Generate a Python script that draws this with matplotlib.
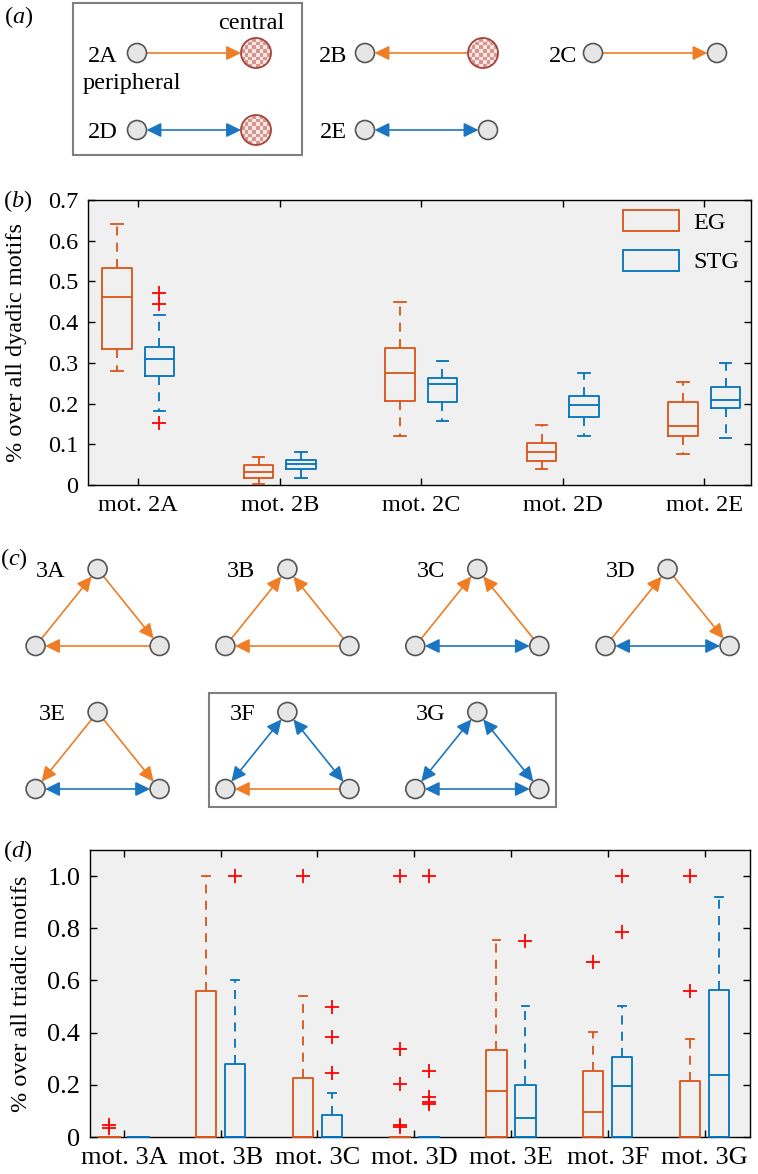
import numpy as np
import matplotlib.pyplot as plt
from matplotlib.patches import Circle, Rectangle, FancyArrowPatch, Patch
from matplotlib.colors import ListedColormap

plt.rcParams['font.family'] = ['Liberation Serif', 'DejaVu Serif']
plt.rcParams['mathtext.fontset'] = 'custom'
plt.rcParams['mathtext.rm'] = 'Liberation Serif'
plt.rcParams['mathtext.it'] = 'Liberation Serif:italic'
FS = 17.5

# ---- panel (b): dyadic motifs, box statistics ----
dyad_labels = ['mot. 2A', 'mot. 2B', 'mot. 2C', 'mot. 2D', 'mot. 2E']
eg2_lo = [0.281, 0.002, 0.121, 0.039, 0.077]
eg2_q1 = [0.335, 0.018, 0.207, 0.058, 0.120]
eg2_med = [0.462, 0.033, 0.275, 0.081, 0.144]
eg2_q3 = [0.533, 0.048, 0.337, 0.103, 0.203]
eg2_hi = [0.641, 0.068, 0.450, 0.148, 0.252]
eg2_out = [[], [], [], [], []]
stg2_lo = [0.182, 0.018, 0.158, 0.121, 0.115]
stg2_q1 = [0.268, 0.040, 0.203, 0.167, 0.189]
stg2_med = [0.310, 0.052, 0.249, 0.197, 0.208]
stg2_q3 = [0.338, 0.062, 0.262, 0.219, 0.240]
stg2_hi = [0.418, 0.080, 0.304, 0.275, 0.299]
stg2_out = [[0.472, 0.445, 0.152], [], [], [], []]

# ---- panel (d): triadic motifs ----
triad_labels = ['mot. 3A', 'mot. 3B', 'mot. 3C', 'mot. 3D', 'mot. 3E', 'mot. 3F', 'mot. 3G']
eg3_lo = [0, 0, 0, 0, 0, 0, 0]
eg3_q1 = [0, 0, 0, 0, 0, 0, 0]
eg3_med = [0, 0, 0, 0, 0.176, 0.096, 0]
eg3_q3 = [0, 0.558, 0.228, 0, 0.333, 0.253, 0.215]
eg3_hi = [0, 1.0, 0.542, 0, 0.754, 0.401, 0.376]
eg3_out = [[0.045, 0.035], [], [1.0], [1.0, 0.336, 0.203, 0.045, 0.038], [], [0.671], [1.0, 0.558]]
stg3_lo = [0, 0, 0, 0, 0, 0, 0]
stg3_q1 = [0, 0, 0, 0, 0, 0, 0]
stg3_med = [0, 0, 0, 0, 0.074, 0.195, 0.237]
stg3_q3 = [0, 0.279, 0.086, 0, 0.201, 0.308, 0.564]
stg3_hi = [0, 0.6, 0.167, 0, 0.503, 0.503, 0.919]
stg3_out = [[], [1.0], [0.5, 0.385, 0.247], [1.0, 0.253, 0.154, 0.135, 0.128], [0.75], [1.0, 0.786], []]

EG = '#D95319'
STG = '#0072BD'
ORANGE = '#EE7D24'
BLUE = '#1B76C2'

fig = plt.figure(figsize=(7.58, 11.74), dpi=100)

# canvas in pixel units for the motif sketches
canvas = fig.add_axes([0, 0, 1, 1])
canvas.axis('off')

R = 9.5
RC = 15


def node(x, y, central=False):
    if central:
        board = np.indices((8, 8)).sum(axis=0) % 2
        im = canvas.imshow(board, cmap=ListedColormap(['#F7E6E3', '#D8958D']),
                           extent=(x - RC, x + RC, y + RC, y - RC),
                           interpolation='nearest', aspect='auto', zorder=3)
        c = Circle((x, y), RC, fc='none', ec='#A4443C', lw=1.3, zorder=4)
        canvas.add_patch(c)
        im.set_clip_path(c)
    else:
        canvas.add_patch(Circle((x, y), R, fc='#E6E6E6', ec='#555555', lw=1.2, zorder=3))


def link(p, q, rp=R, rq=R, both=False):
    p = np.array(p, float)
    q = np.array(q, float)
    u = (q - p) / np.hypot(*(q - p))
    a, b = p + u * rp, q - u * rq
    style = '<|-|>' if both else '-|>'
    canvas.add_patch(FancyArrowPatch(a, b, arrowstyle=style + ',head_length=0.55,head_width=0.27',
                                     mutation_scale=16, color=BLUE if both else ORANGE,
                                     lw=1.2, shrinkA=0, shrinkB=0, zorder=2))


def label(x, y, s):
    canvas.text(x, y, s, ha='right', va='baseline', fontsize=FS)


# ---- panel (a) ----
canvas.text(4, 4, r'$(\mathit{a})$', va='top', fontsize=FS)
canvas.add_patch(Rectangle((73, 3), 229, 152, fc='none', ec='#808080', lw=1.5))
y1, y2 = 53, 130
for (ln, rn, yy, central, kind) in [(137, 256, y1, True, 'ab'),
                                    (365, 483, y1, True, 'ba'),
                                    (593, 717, y1, False, 'ab'),
                                    (137, 256, y2, True, 'both'),
                                    (365, 488, y2, False, 'both')]:
    node(ln, yy)
    node(rn, yy, central)
    rr = RC if central else R
    if kind == 'ab':
        link((ln, yy), (rn, yy), R, rr)
    elif kind == 'ba':
        link((rn, yy), (ln, yy), rr, R)
    else:
        link((ln, yy), (rn, yy), R, rr, both=True)
label(118, y1 + 8.5, '2A')
label(347, y1 + 8.5, '2B')
label(577, y1 + 8.5, '2C')
label(118, y2 + 8.5, '2D')
label(347, y2 + 8.5, '2E')
canvas.text(251, 29, 'central', ha='center', va='baseline', fontsize=FS)
canvas.text(132, 89, 'peripheral', ha='center', va='baseline', fontsize=FS)

# ---- panel (c) ----
canvas.text(0, 546, r'$(\mathit{c})$', va='top', fontsize=FS)
canvas.add_patch(Rectangle((209, 693), 347, 114, fc='none', ec='#808080', lw=1.5))
triads = [
    ('3A', 97.6, 569, [('t', 'r', 0), ('r', 'l', 0), ('l', 't', 0)]),
    ('3B', 287.4, 569, [('l', 't', 0), ('r', 't', 0), ('r', 'l', 0)]),
    ('3C', 477.3, 569, [('l', 't', 0), ('r', 't', 0), ('l', 'r', 1)]),
    ('3D', 667.6, 569, [('l', 't', 0), ('t', 'r', 0), ('l', 'r', 1)]),
    ('3E', 97.6, 712, [('t', 'l', 0), ('t', 'r', 0), ('l', 'r', 1)]),
    ('3F', 287.4, 712, [('t', 'l', 1), ('t', 'r', 1), ('r', 'l', 0)]),
    ('3G', 477.3, 712, [('t', 'l', 1), ('t', 'r', 1), ('l', 'r', 1)]),
]
for name, tx, ty, edges in triads:
    pts = {'t': (tx, ty), 'l': (tx - 62, ty + 77), 'r': (tx + 62, ty + 77)}
    for p in pts.values():
        node(*p)
    for a, b, both in edges:
        link(pts[a], pts[b], both=bool(both))
    label(tx - 32, ty + 8, name)

canvas.set_xlim(0, 758)
canvas.set_ylim(1174, 0)


# ---- box plots ----
def stats(lo, q1, med, q3, hi, out):
    return [dict(whislo=a, q1=b, med=c, q3=d, whishi=e, fliers=f)
            for a, b, c, d, e, f in zip(lo, q1, med, q3, hi, out)]


def boxes(ax, st, pos, color):
    art = ax.bxp(st, positions=pos, widths=0.21, capwidths=0.08, manage_ticks=False,
                 boxprops=dict(color=color, lw=1.3),
                 whiskerprops=dict(color=color, lw=1.3, linestyle=(0, (5, 4))),
                 capprops=dict(color=color, lw=1.3),
                 medianprops=dict(color=color, lw=1.3),
                 flierprops=dict(marker='+', markeredgecolor='red', markersize=9.5,
                                 markeredgewidth=1.3, linestyle='none'))
    for group in art.values():
        for ln in group:
            ln.set_zorder(3)
            ln.set_clip_on(False)


def style(ax, labels, ylim, ticks, ticklabels, ylabel, lx, tfs):
    ax.set_facecolor('#F0F0F0')
    ax.set_xticks(np.arange(1, len(labels) + 1), labels)
    ax.set_ylim(*ylim)
    ax.set_yticks(ticks, ticklabels)
    ax.tick_params(direction='in', top=True, right=True, length=5, width=1,
                   labelsize=tfs, pad=7)
    for s in ax.spines.values():
        s.set_linewidth(1)
    ax.set_ylabel(ylabel, fontsize=FS)
    ax.yaxis.set_label_coords(lx, 0.5)


axb = fig.add_axes([88 / 758, 1 - 485 / 1174, 663 / 758, 285 / 1174])
xb = np.arange(1, len(dyad_labels) + 1)
boxes(axb, stats(eg2_lo, eg2_q1, eg2_med, eg2_q3, eg2_hi, eg2_out), xb - 0.15, EG)
boxes(axb, stats(stg2_lo, stg2_q1, stg2_med, stg2_q3, stg2_hi, stg2_out), xb + 0.15, STG)
axb.set_xlim(0.645, 5.33)
style(axb, dyad_labels, (0, 0.7), np.arange(0, 0.71, 0.1),
      ['0', '0.1', '0.2', '0.3', '0.4', '0.5', '0.6', '0.7'],
      '% over all dyadic motifs', -0.092, 17.5)
axb.legend(handles=[Patch(fc='none', ec=EG, lw=1.3, label='EG'),
                    Patch(fc='none', ec=STG, lw=1.3, label='STG')],
           loc='upper left', bbox_to_anchor=(0.807, 0.965), frameon=False,
           fontsize=FS, handlelength=2.3, handleheight=0.95, handletextpad=0.6,
           labelspacing=0.65, borderpad=0, borderaxespad=0)
canvas.text(3, 188, r'$(\mathit{b})$', va='top', fontsize=FS)

axd = fig.add_axes([90 / 758, 1 - 1137 / 1174, 660 / 758, 287 / 1174])
xd = np.arange(1, len(triad_labels) + 1)
boxes(axd, stats(eg3_lo, eg3_q1, eg3_med, eg3_q3, eg3_hi, eg3_out), xd - 0.15, EG)
boxes(axd, stats(stg3_lo, stg3_q1, stg3_med, stg3_q3, stg3_hi, stg3_out), xd + 0.15, STG)
axd.set_xlim(0.65, 7.47)
style(axd, triad_labels, (0, 1.1), np.arange(0, 1.01, 0.2),
      ['0', '0.2', '0.4', '0.6', '0.8', '1.0'],
      '% over all triadic motifs', -0.088, 19)
canvas.text(3, 838, r'$(\mathit{d})$', va='top', fontsize=FS)

fig.savefig('out.png', dpi=100)
